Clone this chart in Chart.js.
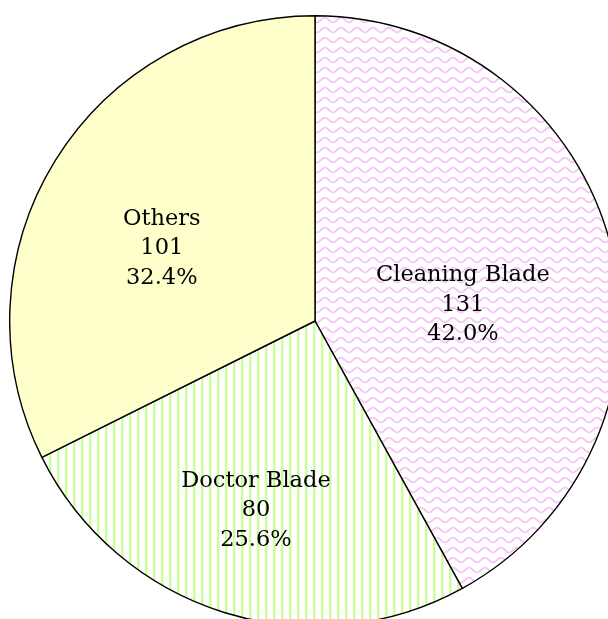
<!DOCTYPE html>
<html>
<head>
<meta charset="utf-8">
<script src="https://cdn.jsdelivr.net/npm/chart.js@4/dist/chart.umd.min.js"></script>
<style>
  html, body { margin: 0; padding: 0; background: #fff; overflow: hidden; width: 608px; height: 619px; }
  #wrap { position: absolute; left: 9px; top: 15px; }
</style>
</head>
<body>
<div id="wrap"><canvas id="c" width="612" height="612"></canvas></div>
<script>
// ---- data ----
const categories = ["Cleaning Blade", "Doctor Blade", "Others"];
const values = [131, 80, 101];

// ---- styles ----
function zigzagPattern(ctx) {
  const t = document.createElement('canvas');
  t.width = 16; t.height = 10;
  const g = t.getContext('2d');
  g.fillStyle = '#ffffff'; g.fillRect(0, 0, 16, 10);
  g.strokeStyle = '#f7c2f7'; g.lineWidth = 1.8;
  g.beginPath();
  for (let x = -1; x <= 17; x += 0.5) {
    const y = 5 + 2.4 * Math.sin(2 * Math.PI * x / 16);
    if (x === -1) g.moveTo(x, y); else g.lineTo(x, y);
  }
  g.stroke();
  return ctx.createPattern(t, 'repeat');
}
function stripePattern(ctx) {
  const t = document.createElement('canvas');
  t.width = 8; t.height = 4;
  const g = t.getContext('2d');
  g.fillStyle = '#ffffff'; g.fillRect(0, 0, 8, 4);
  g.fillStyle = '#ccff99'; g.fillRect(0, 0, 2.5, 4);
  return ctx.createPattern(t, 'repeat');
}

const canvas = document.getElementById('c');
const ctx = canvas.getContext('2d');
const fills = [zigzagPattern(ctx), stripePattern(ctx), '#ffffcc'];

// label placement (fraction of radius along bisector, vertical shift in px)
const labelRadius = [0.5, 0.65, 0.59];
const labelShift = [22, 0, 22];

const labelPlugin = {
  id: 'sliceLabels',
  afterDatasetsDraw(chart) {
    const meta = chart.getDatasetMeta(0);
    const total = values.reduce((a, b) => a + b, 0);
    const c = chart.ctx;
    c.save();
    c.fillStyle = '#000';
    c.font = '22.5px "DejaVu Serif", serif';
    c.textAlign = 'center';
    c.textBaseline = 'middle';
    meta.data.forEach((arc, i) => {
      const p = arc.getProps(['x', 'y', 'startAngle', 'endAngle', 'outerRadius'], true);
      const mid = (p.startAngle + p.endAngle) / 2;
      const r = p.outerRadius * labelRadius[i];
      const x = p.x + Math.cos(mid) * r;
      const y = p.y + Math.sin(mid) * r + labelShift[i];
      const lines = [categories[i], String(values[i]), (values[i] / total * 100).toFixed(1) + '%'];
      lines.forEach((t, k) => c.fillText(t, x, y + (k - 1) * 29.5));
    });
    c.restore();
  }
};

new Chart(ctx, {
  type: 'pie',
  data: {
    labels: categories,
    datasets: [{
      data: values,
      backgroundColor: fills,
      borderColor: '#000',
      borderWidth: 1.4,
      borderJoinStyle: 'miter'
    }]
  },
  options: {
    responsive: false,
    animation: false,
    devicePixelRatio: 1,
    rotation: 0,
    layout: { padding: 0 },
    plugins: { legend: { display: false }, tooltip: { enabled: false } }
  },
  plugins: [labelPlugin]
});
</script>
</body>
</html>
